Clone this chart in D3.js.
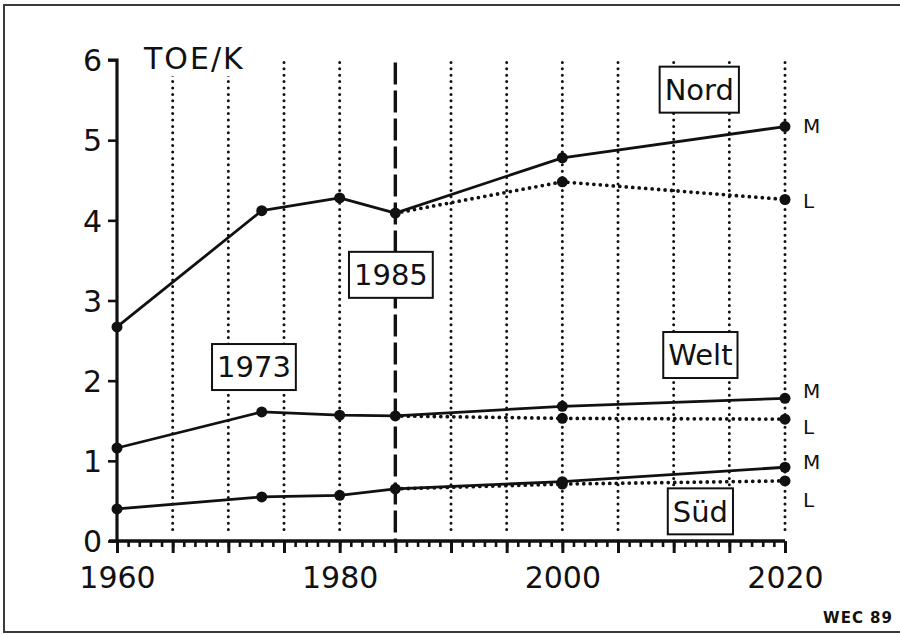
<!DOCTYPE html>
<html>
<head>
<meta charset="utf-8">
<script src="https://cdn.jsdelivr.net/npm/d3@7"></script>
<style>
  html, body { margin: 0; padding: 0; background: #fff; }
  svg { display: block; }
  text { font-family: "DejaVu Sans", "Liberation Sans", sans-serif; fill: #111; }
</style>
</head>
<body>
<svg id="chart" width="900" height="635"></svg>
<script>
// Energy use per head (TOE per capita), WEC 1989 scenarios
const years = [1960, 1973, 1980, 1985, 2000, 2020];
const nordM = [2.67, 4.12, 4.28, 4.09, 4.78, 5.17];
const weltM = [1.16, 1.61, 1.57, 1.56, 1.68, 1.78];
const suedM = [0.40, 0.55, 0.57, 0.65, 0.74, 0.92];

const scenarioYears = [1985, 2000, 2020];
const nordL = [4.09, 4.48, 4.26];
const weltL = [1.56, 1.53, 1.52];
const suedL = [0.65, 0.71, 0.75];

const yTicks = [0, 1, 2, 3, 4, 5, 6];
const xLabelYears = [1960, 1980, 2000, 2020];
const gridYears = [1965, 1970, 1975, 1980, 1990, 1995, 2000, 2005, 2010, 2015, 2020];
const markYear = 1985;

const regionLabels = [
  { text: "Nord", year: 2012.3, value: 5.63 },
  { text: "Welt", year: 2012.4, value: 2.32 },
  { text: "Süd", year: 2012.4, value: 0.37 },
  { text: "1973", year: 1972.3, value: 2.17 },
  { text: "1985", year: 1984.6, value: 3.32 }
];
const endLabels = [
  { text: "M", value: nordM[nordM.length - 1] },
  { text: "L", value: nordL[nordL.length - 1] },
  { text: "M", value: weltM[weltM.length - 1] },
  { text: "L", value: weltL[weltL.length - 1] },
  { text: "M", value: suedM[suedM.length - 1] },
  { text: "L", value: suedL[suedL.length - 1] }
];
const endLabelNudge = [-1, 1, -8, 8, -5, 19];

const svg = d3.select("#chart");

// page frame
svg.append("rect")
  .attr("x", 4).attr("y", 5).attr("width", 910).attr("height", 627)
  .attr("fill", "none").attr("stroke", "#3a3a3a").attr("stroke-width", 2);

const x = d3.scaleLinear().domain([1960, 2020]).range([117, 785]);
const y = d3.scaleLinear().domain([0, 6]).range([541, 60]);

// dotted vertical grid
svg.append("g").selectAll("line").data(gridYears).join("line")
  .attr("x1", d => x(d)).attr("x2", d => x(d))
  .attr("y1", y(5.97)).attr("y2", y(0.08))
  .attr("stroke", "#111").attr("stroke-width", 3)
  .attr("stroke-linecap", "round").attr("stroke-dasharray", "0,6.4");

// dashed 1985 marker line
svg.append("line")
  .attr("x1", x(markYear)).attr("x2", x(markYear))
  .attr("y1", y(5.97)).attr("y2", y(0))
  .attr("stroke", "#111").attr("stroke-width", 3.4)
  .attr("stroke-dasharray", "22,6");

// y axis unit label with white backing
const unitG = svg.append("g");
unitG.append("rect").attr("x", 140).attr("y", 40).attr("width", 112).attr("height", 36).attr("fill", "#fff");
unitG.append("text").attr("x", 144).attr("y", 69)
  .attr("font-size", 30).attr("letter-spacing", 2).text("TOE/K");

// y axis
const yAxis = svg.append("g").attr("transform", `translate(${x(1960)},0)`)
  .call(d3.axisLeft(y).tickValues(yTicks).tickSize(9).tickPadding(6).tickFormat(d3.format("d")));
yAxis.select(".domain").attr("stroke", "#111").attr("stroke-width", 3.2)
  .attr("d", `M-9,${y(6)}H0V${y(0)}`);
yAxis.selectAll(".tick line").attr("stroke", "#111").attr("stroke-width", 2.6);
yAxis.selectAll(".tick text").attr("font-size", 30).attr("fill", "#111")
  .attr("font-family", "DejaVu Sans, sans-serif").attr("dy", "0.36em");

// x axis: yearly minor ticks, five-year major ticks
const xMinor = svg.append("g").attr("transform", `translate(0,${y(0)})`)
  .call(d3.axisBottom(x).tickValues(d3.range(1960, 2021)).tickSize(6).tickFormat(""));
xMinor.select(".domain").remove();
xMinor.selectAll(".tick line").attr("stroke", "#111").attr("stroke-width", 2.6);

const xAxis = svg.append("g").attr("transform", `translate(0,${y(0)})`)
  .call(d3.axisBottom(x).tickValues(d3.range(1960, 2021, 5)).tickSize(12)
    .tickFormat(d => xLabelYears.includes(d) ? String(d) : ""));
xAxis.select(".domain").attr("stroke", "#111").attr("stroke-width", 3.6)
  .attr("d", `M${x(1960) - 8},0H${x(2020)}`);
xAxis.selectAll(".tick line").attr("stroke", "#111").attr("stroke-width", 3);
xAxis.selectAll(".tick text").attr("font-size", 30).attr("fill", "#111")
  .attr("font-family", "DejaVu Sans, sans-serif").attr("y", 26);

// series
const lineGen = d3.line().x(d => x(d[0])).y(d => y(d[1]));
const mainSeries = [nordM, weltM, suedM];
const lowSeries = [nordL, weltL, suedL];

const gSeries = svg.append("g");
lowSeries.forEach(vals => {
  const pts = scenarioYears.map((yr, i) => [yr, vals[i]]);
  gSeries.append("path").datum(pts).attr("d", lineGen)
    .attr("fill", "none").attr("stroke", "#111").attr("stroke-width", 3.8)
    .attr("stroke-linecap", "round").attr("stroke-dasharray", "0,6.5");
  gSeries.append("g").selectAll("circle").data(pts.slice(1)).join("circle")
    .attr("cx", d => x(d[0])).attr("cy", d => y(d[1])).attr("r", 5.5).attr("fill", "#111");
});
mainSeries.forEach(vals => {
  const pts = years.map((yr, i) => [yr, vals[i]]);
  gSeries.append("path").datum(pts).attr("d", lineGen)
    .attr("fill", "none").attr("stroke", "#111").attr("stroke-width", 2.8)
    .attr("stroke-linejoin", "round");
  gSeries.append("g").selectAll("circle").data(pts).join("circle")
    .attr("cx", d => x(d[0])).attr("cy", d => y(d[1])).attr("r", 5.5).attr("fill", "#111");
});

// boxed labels
const boxes = svg.append("g");
regionLabels.forEach(l => {
  const g = boxes.append("g").attr("transform", `translate(${x(l.year)},${y(l.value)})`);
  const t = g.append("text").attr("text-anchor", "middle").attr("dy", "0.36em")
    .attr("font-size", 29).text(l.text);
  const bb = t.node().getBBox();
  g.insert("rect", "text")
    .attr("x", bb.x - 5).attr("y", -23).attr("width", bb.width + 10).attr("height", 46)
    .attr("fill", "#fff").attr("stroke", "#111").attr("stroke-width", 2);
});

// scenario end labels
svg.append("g").selectAll("text").data(endLabels).join("text")
  .attr("x", x(2020) + 18)
  .attr("y", (d, i) => y(d.value) + endLabelNudge[i])
  .attr("dy", "0.36em").attr("font-size", 20).text(d => d.text);

// source note
svg.append("text").attr("x", 893).attr("y", 623).attr("text-anchor", "end")
  .attr("font-size", 15).attr("font-weight", "bold").attr("letter-spacing", 1)
  .attr("font-family", "Liberation Sans, Arial, sans-serif").text("WEC 89");
</script>
</body>
</html>
